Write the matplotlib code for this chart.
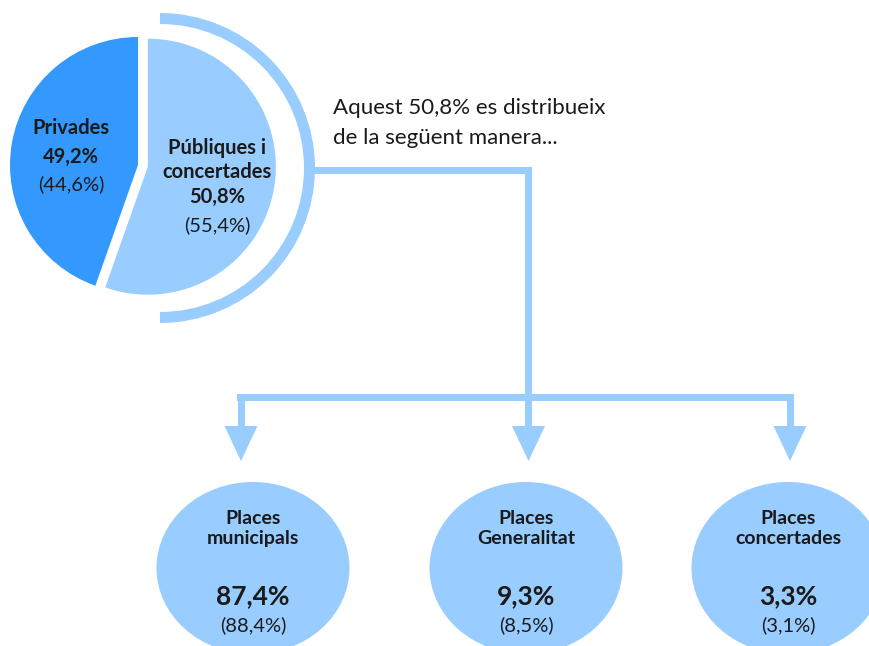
import matplotlib
matplotlib.use("Agg")
import matplotlib.pyplot as plt
from matplotlib.patches import Wedge, Ellipse, Polygon, Rectangle

# ---- data ----
pie_labels = ["Privades", "Públiques i\nconcertades"]
pie_values = [49.2, 50.8]          # current shares (bold)
pie_prev = [44.6, 55.4]            # shares in parentheses (used for wedge sizes)
sub_labels = ["Places\nmunicipals", "Places\nGeneralitat", "Places\nconcertades"]
sub_values = [87.4, 9.3, 3.3]
sub_prev = [88.4, 8.5, 3.1]
note_lines = ["Aquest 50,8% es distribueix", "de la següent manera..."]

W, H = 869, 646
DARK = "#3399FF"
LIGHT = "#99CCFF"
TXT = "#1a1a1a"
FONT = ["Lato", "DejaVu Sans"]


def Y(y):
    return H - y


def fmt(v):
    return f"{v:.1f}".replace(".", ",") + "%"


fig = plt.figure(figsize=(W / 100, H / 100), dpi=100)
ax = fig.add_axes([0, 0, 1, 1])

# ---- pie ----
pcx, pcy, pr = 138, 165, 128
ax.pie(pie_prev, colors=[DARK, LIGHT], startangle=90, counterclock=True,
       center=(pcx, Y(pcy)), radius=pr, explode=[0, 10],
       wedgeprops=dict(linewidth=0), frame=True)
ax.set_xlim(0, W)
ax.set_ylim(0, H)
ax.set_aspect("equal")
ax.axis("off")

# outer half ring
ax.add_patch(Wedge((160, Y(168)), 155, -90, 90, width=11, color=LIGHT, lw=0))

# pie labels
ax.text(71, Y(128), pie_labels[0], ha="center", va="center", fontsize=14.5,
        fontweight="bold", color=TXT, family=FONT)
ax.text(71, Y(157), fmt(pie_values[0]), ha="center", va="center", fontsize=14.5,
        fontweight="bold", color=TXT, family=FONT)
ax.text(71, Y(184), f"({fmt(pie_prev[0])})", ha="center", va="center",
        fontsize=14.5, color=TXT, family=FONT)

ax.text(217, Y(160), pie_labels[1], ha="center", va="center", fontsize=14.5,
        fontweight="bold", color=TXT, family=FONT, linespacing=1.2)
ax.text(217, Y(197), fmt(pie_values[1]), ha="center", va="center", fontsize=14.5,
        fontweight="bold", color=TXT, family=FONT)
ax.text(217, Y(225), f"({fmt(pie_prev[1])})", ha="center", va="center",
        fontsize=14.5, color=TXT, family=FONT)

# note
ax.text(333, Y(108), note_lines[0], ha="left", va="center", fontsize=16,
        color=TXT, family=FONT)
ax.text(333, Y(138), note_lines[1], ha="left", va="center", fontsize=16,
        color=TXT, family=FONT)

# ---- connectors ----
t = 7  # px thickness


def hbar(x0, x1, yc):
    ax.add_patch(Rectangle((x0, Y(yc) - t / 2), x1 - x0, t, color=LIGHT, lw=0))


def vbar(xc, y0, y1):
    ax.add_patch(Rectangle((xc - t / 2, Y(y1)), t, y1 - y0, color=LIGHT, lw=0))


hbar(310, 532, 170)
vbar(528.5, 166.5, 400)
hbar(237, 794, 397)

arrow_x = [241, 528.5, 790]
for ax_x in arrow_x:
    vbar(ax_x, 393.5, 428)
    ax.add_patch(Polygon([(ax_x - 16.5, Y(426)), (ax_x + 16.5, Y(426)),
                          (ax_x, Y(461))], closed=True, color=LIGHT, lw=0))

# ---- sub circles ----
ell_x = [253, 526, 788]
for i, cx in enumerate(ell_x):
    ax.add_patch(Ellipse((cx, Y(568)), 193, 172, color=LIGHT, lw=0))
    ax.text(cx, Y(528.5), sub_labels[i], ha="center", va="center", fontsize=14,
            fontweight="bold", color=TXT, family=FONT, linespacing=1.25)
    ax.text(cx, Y(596), fmt(sub_values[i]), ha="center", va="center",
            fontsize=19, fontweight="bold", color=TXT, family=FONT)
    ax.text(cx, Y(625), f"({fmt(sub_prev[i])})", ha="center", va="center",
            fontsize=14.5, color=TXT, family=FONT)

fig.savefig("out.png", dpi=100, facecolor="white")
